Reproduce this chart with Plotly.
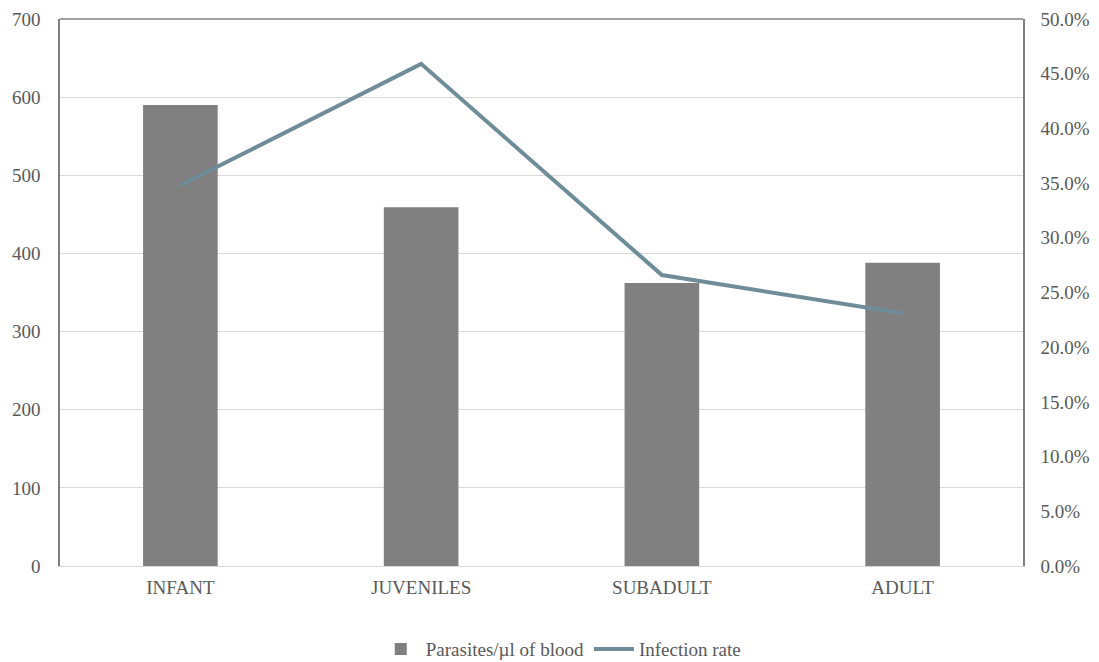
import plotly.graph_objects as go

categories = ["INFANT", "JUVENILES", "SUBADULT", "ADULT"]
parasites = [590, 459, 362, 388]
infection_rate = [0.348, 0.459, 0.266, 0.231]

y1_ticks = [0, 100, 200, 300, 400, 500, 600, 700]
y2_ticks = [0, 0.05, 0.10, 0.15, 0.20, 0.25, 0.30, 0.35, 0.40, 0.45, 0.50]

FONT = "Liberation Serif"
TICKCOL = "#595959"
FS = 19

fig = go.Figure()
fig.add_trace(go.Bar(
    x=categories, y=parasites, name="Parasites/µl of blood",
    marker=dict(color="#808080", line=dict(width=0)), width=0.31, yaxis="y",
))
fig.add_trace(go.Scatter(
    x=categories, y=infection_rate, name="Infection rate", mode="lines",
    line=dict(color="#6f8c99", width=4), yaxis="y2",
))

fig.update_layout(
    width=1091, height=654,
    margin=dict(l=52, r=76, t=11, b=96, autoexpand=False),
    plot_bgcolor="white", paper_bgcolor="white",
    font=dict(family=FONT, size=FS, color=TICKCOL),
    showlegend=True,
    legend=dict(orientation="h", x=0.52, xanchor="center", y=-0.152, yanchor="middle",
                font=dict(family=FONT, size=FS, color=TICKCOL), traceorder="normal",
                itemwidth=40),
    bargap=0.69,
    xaxis=dict(showgrid=False, showline=True, linecolor="#d9d9d9", linewidth=1,
               ticks="", automargin=False, ticklabelstandoff=4,
               tickfont=dict(family=FONT, size=FS, color=TICKCOL)),
    yaxis=dict(range=[0, 700], tickvals=y1_ticks, showgrid=True, gridcolor="#d9d9d9",
               gridwidth=1, showline=True, linecolor="#7f7f7f", linewidth=1.5,
               zeroline=False, ticks="", ticklabelstandoff=14, automargin=False,
               tickfont=dict(family=FONT, size=FS, color=TICKCOL)),
    yaxis2=dict(range=[0, 0.5], tickvals=y2_ticks, tickformat=".1%", overlaying="y",
                side="right", showgrid=False, showline=True, linecolor="#7f7f7f",
                linewidth=1.5, zeroline=False, ticks="", ticklabelstandoff=12,
                automargin=False,
                tickfont=dict(family=FONT, size=FS, color=TICKCOL)),
    shapes=[dict(type="line", xref="paper", yref="paper", x0=0, x1=1, y0=1, y1=1,
                 line=dict(color="#7f7f7f", width=1.5))],
)

fig.write_html("out.html")
